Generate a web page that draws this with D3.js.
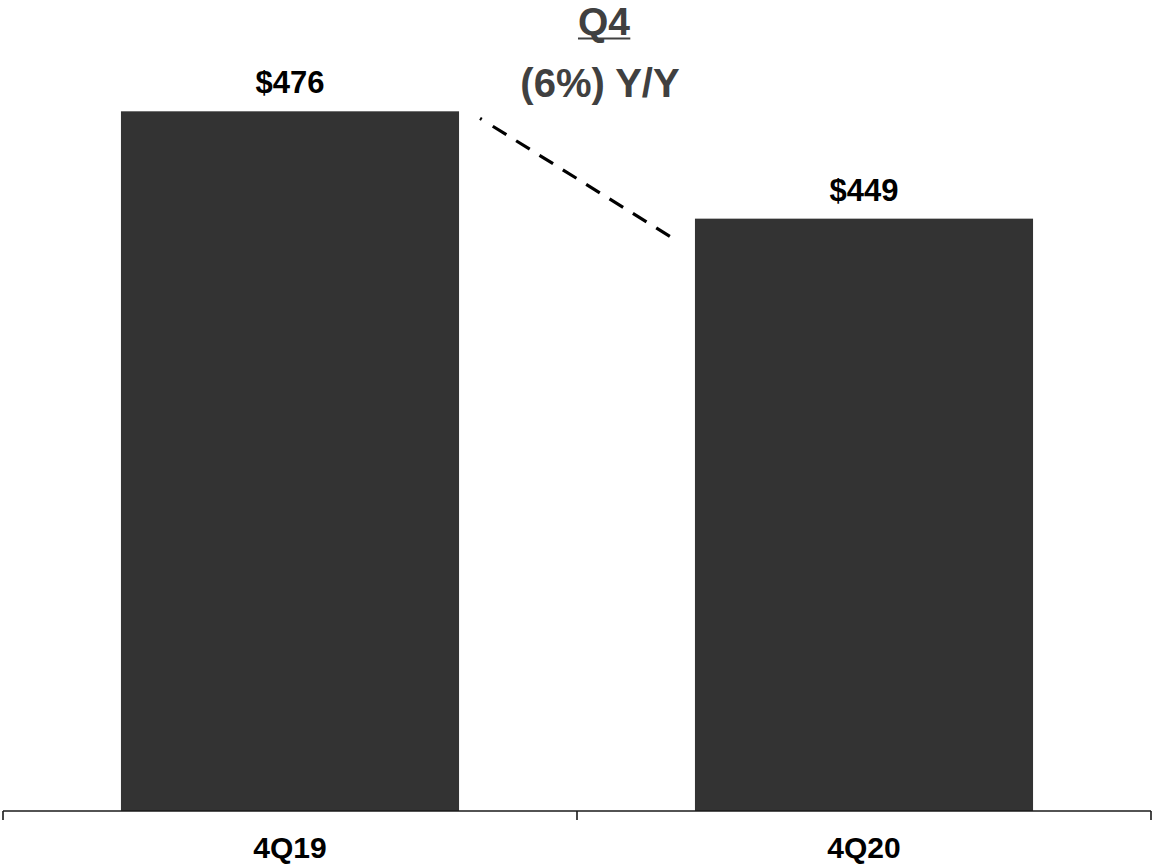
<!DOCTYPE html>
<html>
<head>
<meta charset="utf-8">
<script src="https://cdn.jsdelivr.net/npm/d3@7"></script>
<style>
  html, body { margin: 0; padding: 0; background: #fff; }
  svg { display: block; }
  text { font-family: "Liberation Sans", Arial, Helvetica, sans-serif; font-weight: bold; }
</style>
</head>
<body>
<svg id="chart" width="1155" height="865"></svg>
<script>
const categories = ["4Q19", "4Q20"];
const values = [476, 449];
const valueLabels = ["$476", "$449"];
const headerTitle = "Q4";
const headerChange = "(6%) Y/Y";

const W = 1155, H = 865;
const axisY = 811;
const svg = d3.select("#chart");

const x = d3.scaleBand().domain(categories).range([3, 1151]).padding(0);
const y = d3.scaleLinear().domain([300, 504]).range([axisY, 0]);
const barW = x.bandwidth() * 0.589;
const barX = c => x(c) + (x.bandwidth() - barW) / 2;

// bars
svg.selectAll("rect.bar").data(categories).join("rect")
  .attr("class", "bar")
  .attr("x", c => barX(c))
  .attr("width", barW)
  .attr("y", (c, i) => y(values[i]))
  .attr("height", (c, i) => axisY - y(values[i]))
  .attr("fill", "#333333");

// axis line + ticks at band boundaries
const axisG = svg.append("g").attr("stroke", "#1a1a1a").attr("stroke-width", 1.6);
axisG.append("line").attr("x1", x.range()[0]).attr("x2", x.range()[1]).attr("y1", axisY).attr("y2", axisY);
const bounds = categories.map(c => x(c)).concat([x.range()[1]]);
axisG.selectAll("line.tick").data(bounds).join("line")
  .attr("class", "tick")
  .attr("x1", d => d).attr("x2", d => d)
  .attr("y1", axisY).attr("y2", axisY + 9);

// category labels
svg.selectAll("text.cat").data(categories).join("text")
  .attr("class", "cat")
  .attr("x", c => x(c) + x.bandwidth() / 2)
  .attr("y", 858)
  .attr("text-anchor", "middle")
  .attr("font-size", 30)
  .attr("fill", "#000")
  .text(c => c);

// value labels
svg.selectAll("text.val").data(categories).join("text")
  .attr("class", "val")
  .attr("x", c => x(c) + x.bandwidth() / 2)
  .attr("y", (c, i) => y(values[i]) - 18)
  .attr("text-anchor", "middle")
  .attr("font-size", 31)
  .attr("fill", "#000")
  .text((c, i) => valueLabels[i]);

// dashed connector
const x0 = barX(categories[0]) + barW + 21;
const y0 = y(values[0]) + 7;
const x1 = barX(categories[1]) - 23;
const y1 = y(values[1]) + 19;
const dash = [2, 13].concat(d3.range(10).flatMap(() => [16, 11.5]));
svg.append("line")
  .attr("x1", x0).attr("y1", y0).attr("x2", x1).attr("y2", y1)
  .attr("stroke", "#000").attr("stroke-width", 3.2)
  .attr("stroke-dasharray", dash.join(","));

// header
const hx = (x(categories[0]) + x.bandwidth() + (x(categories[1]))) / 2 + 25;
const q4 = svg.append("text")
  .attr("x", hx + 2).attr("y", 35)
  .attr("text-anchor", "middle")
  .attr("font-size", 39)
  .attr("fill", "#404040")
  .text(headerTitle);
const bb = q4.node().getBBox();
svg.append("line")
  .attr("x1", bb.x).attr("x2", bb.x + bb.width)
  .attr("y1", 38.5).attr("y2", 38.5)
  .attr("stroke", "#404040").attr("stroke-width", 2.2);
svg.append("text")
  .attr("x", hx - 2).attr("y", 97)
  .attr("text-anchor", "middle")
  .attr("font-size", 40)
  .attr("fill", "#404040")
  .text(headerChange);
</script>
</body>
</html>
